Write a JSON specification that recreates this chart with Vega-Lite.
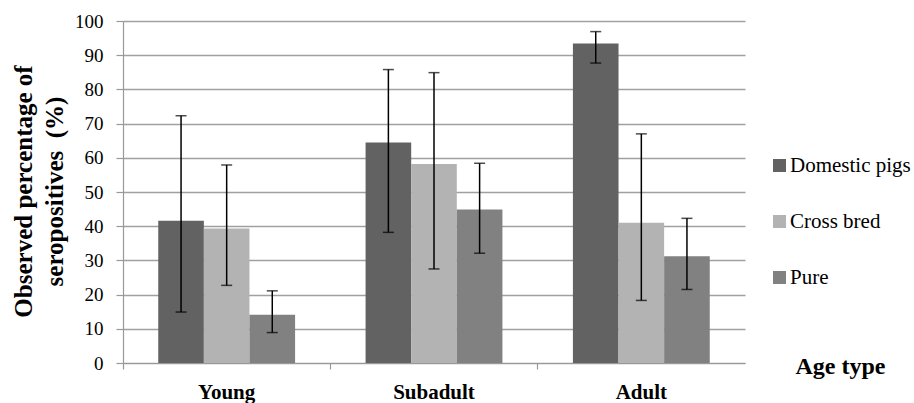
{
  "$schema": "https://vega.github.io/schema/vega-lite/v6.json",
  "autosize": {"type": "none"},
  "padding": {"left": 123, "top": 21, "right": 169, "bottom": 40},
  "width": 622,
  "height": 342,
  "background": "white",
  "config": {
    "view": {"stroke": null},
    "font": "Liberation Serif",
    "axisY": {
      "values": [0, 10, 20, 30, 40, 50, 60, 70, 80, 90, 100],
      "titleFont": "Liberation Serif", "titleFontSize": 25, "titleFontWeight": "bold", "titleColor": "black",
      "titleAngle": -90, "titleX": -100, "titleY": 170, "titleAlign": "center", "titleBaseline": "middle", "titleLineHeight": 31,
      "labelFont": "Liberation Serif", "labelFontSize": 19, "labelColor": "black",
      "tickSize": 7, "labelPadding": 13, "tickColor": "#999999", "domainColor": "#999999", "domainWidth": 1.2, "tickWidth": 1.2,
      "grid": true, "gridColor": "#a0a0a0", "gridWidth": 1.3
    }
  },
  "data": {
    "values": [
      {"age": "Young", "type": "Domestic pigs", "value": 41.6, "lo": 14.9, "hi": 72.3},
      {"age": "Young", "type": "Cross bred", "value": 39.3, "lo": 22.7, "hi": 57.9},
      {"age": "Young", "type": "Pure", "value": 14.1, "lo": 8.9, "hi": 21.1},
      {"age": "Subadult", "type": "Domestic pigs", "value": 64.5, "lo": 38.2, "hi": 85.8},
      {"age": "Subadult", "type": "Cross bred", "value": 58.2, "lo": 27.5, "hi": 84.9},
      {"age": "Subadult", "type": "Pure", "value": 44.9, "lo": 32.1, "hi": 58.4},
      {"age": "Adult", "type": "Domestic pigs", "value": 93.4, "lo": 87.7, "hi": 96.9},
      {"age": "Adult", "type": "Cross bred", "value": 41.0, "lo": 18.3, "hi": 67.0},
      {"age": "Adult", "type": "Pure", "value": 31.2, "lo": 21.5, "hi": 42.3}
    ]
  },
  "encoding": {
    "x": {
      "field": "age", "type": "nominal", "sort": ["Young", "Subadult", "Adult"],
      "scale": {"paddingInner": 0.34, "paddingOuter": 0.17},
      "axis": {
        "title": "Age type",
        "titleFont": "Liberation Serif", "titleFontSize": 24, "titleFontWeight": "bold", "titleColor": "black",
        "titleX": 717, "titleY": 10, "titleBaseline": "alphabetic", "titleAlign": "center", "titleAnchor": null,
        "labelAngle": 0, "labelFont": "Liberation Serif", "labelFontSize": 21, "labelFontWeight": "bold", "labelColor": "black",
        "labelBaseline": "alphabetic", "labelPadding": 29,
        "bandPosition": -0.2575,
        "tickSize": 6, "tickColor": "#999999", "domainColor": "#999999", "domainWidth": 1.2, "tickWidth": 1.2,
        "grid": false
      }
    },
    "xOffset": {"field": "type", "type": "nominal", "sort": ["Domestic pigs", "Cross bred", "Pure"], "scale": {"paddingInner": 0, "paddingOuter": 0}}
  },
  "layer": [
    {
      "mark": {"type": "bar"},
      "encoding": {
        "y": {
          "field": "value", "type": "quantitative",
          "scale": {"domain": [0, 100], "nice": false},
          "title": ["Observed percentage of", "seropositives \u00a0(%)"]
        },
        "color": {
          "field": "type", "type": "nominal", "sort": ["Domestic pigs", "Cross bred", "Pure"],
          "scale": {"domain": ["Domestic pigs", "Cross bred", "Pure"], "range": ["#626262", "#b3b3b3", "#818181"]},
          "legend": {
            "title": null, "orient": "none", "legendX": 646, "legendY": 134,
            "symbolType": "square", "symbolSize": 169, "symbolStrokeWidth": 0, "symbolOpacity": 1,
            "labelFont": "Liberation Serif", "labelFontSize": 21, "labelColor": "black", "labelOffset": 0,
            "rowPadding": 34
          }
        }
      }
    },
    {
      "mark": {"type": "rule", "color": "black", "strokeWidth": 1.5},
      "encoding": {"y": {"field": "lo", "type": "quantitative", "title": ["Observed percentage of", "seropositives \u00a0(%)"]}, "y2": {"field": "hi"}}
    },
    {
      "mark": {"type": "tick", "color": "black", "thickness": 1.5, "size": 11},
      "encoding": {"y": {"field": "lo", "type": "quantitative", "title": ["Observed percentage of", "seropositives \u00a0(%)"]}}
    },
    {
      "mark": {"type": "tick", "color": "black", "thickness": 1.5, "size": 11},
      "encoding": {"y": {"field": "hi", "type": "quantitative", "title": ["Observed percentage of", "seropositives \u00a0(%)"]}}
    }
  ]
}
